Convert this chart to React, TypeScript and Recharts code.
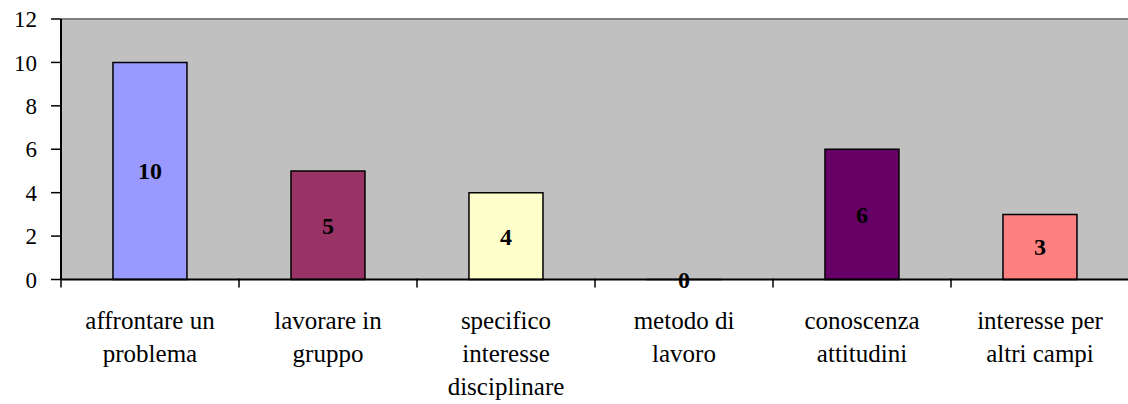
import { BarChart, Bar, XAxis, YAxis, CartesianGrid, Cell, LabelList } from "recharts";

// categorie (a capo dove il grafico originale va a capo)
const categories = [
  "affrontare un\nproblema",
  "lavorare in\ngruppo",
  "specifico\ninteresse\ndisciplinare",
  "metodo di\nlavoro",
  "conoscenza\nattitudini",
  "interesse per\naltri campi",
];
const values = [10, 5, 4, 0, 6, 3];
const barColors = ["#9999FF", "#993366", "#FFFFCC", "#CCFFFF", "#660066", "#FF8080"];
const yTicks = [0, 2, 4, 6, 8, 10, 12];

const data = categories.map((name, i) => ({ name, value: values[i] }));

const FONT = "Liberation Serif";

function CategoryTick(props: any) {
  const { x, y, payload } = props;
  const half = payload?.offset ?? 89;
  const lines = String(payload.value).split("\n");
  return (
    <g>
      <line x1={x - half} y1={y - 9} x2={x - half} y2={y} stroke="#000" strokeWidth={1.5} />
      <text x={x} y={y + 41} textAnchor="middle" fill="#000" fontFamily={FONT} fontSize={25}>
        {lines.map((l, i) => (
          <tspan key={i} x={x} dy={i === 0 ? 0 : 33}>
            {l}
          </tspan>
        ))}
      </text>
    </g>
  );
}

export default function App() {
  return (
    <div style={{ position: "absolute", left: 0, top: 0, width: 1128, height: 404, overflow: "hidden", background: "#fff" }}>
      <BarChart
        width={1130}
        height={404}
        data={data}
        margin={{ top: 19, right: 1, left: 0, bottom: 0 }}
        barCategoryGap="29.2%"
      >
        <CartesianGrid
          vertical={false}
          horizontalPoints={[19]}
          stroke="#808080"
          strokeWidth={2}
          fill="#C0C0C0"
          fillOpacity={1}
        />
        <XAxis
          dataKey="name"
          interval={0}
          tickLine={false}
          axisLine={{ stroke: "#000", strokeWidth: 2 }}
          tick={<CategoryTick />}
          height={124.5}
        />
        <YAxis
          domain={[0, 12]}
          ticks={yTicks}
          interval={0}
          width={61}
          tickSize={10}
          tickMargin={14}
          axisLine={{ stroke: "#000", strokeWidth: 2 }}
          tickLine={{ stroke: "#000", strokeWidth: 1.5 }}
          tick={{ fill: "#000", fontSize: 23, fontFamily: FONT }}
        />
        <Bar dataKey="value" stroke="#000" strokeWidth={1.5} minPointSize={0.01} isAnimationActive={false}>
          {data.map((_, i) => (
            <Cell key={i} fill={barColors[i]} />
          ))}
          <LabelList
            dataKey="value"
            position="center"
            fill="#000"
            fontSize={24}
            fontWeight="bold"
            fontFamily={FONT}
          />
        </Bar>
      </BarChart>
    </div>
  );
}
